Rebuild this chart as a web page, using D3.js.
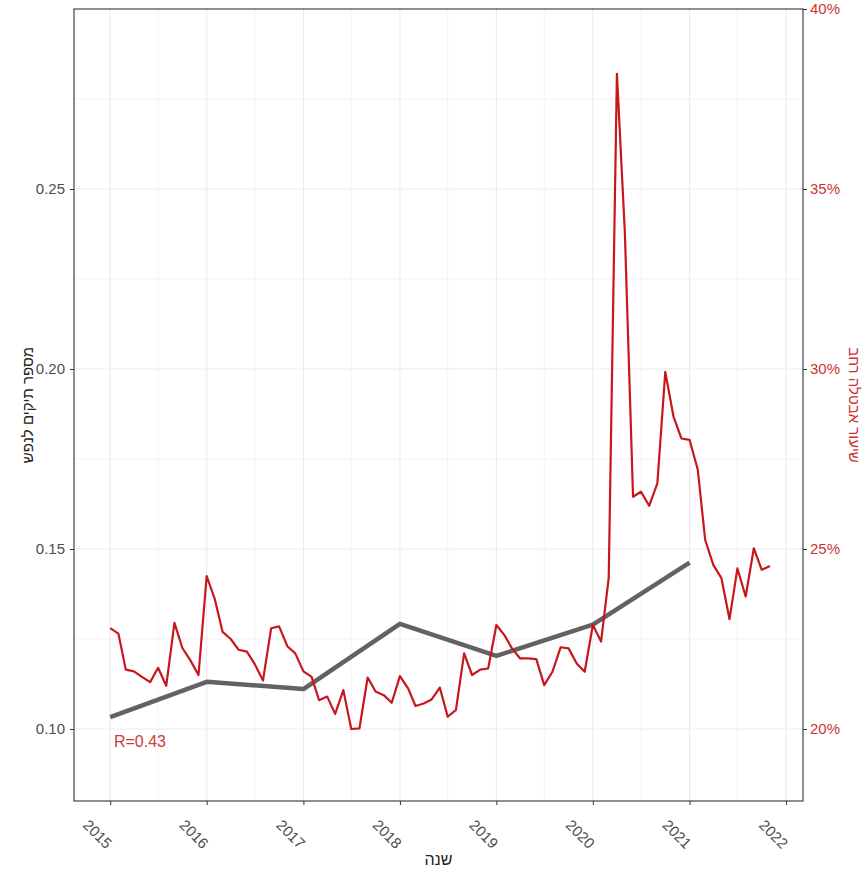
<!DOCTYPE html>
<html><head><meta charset="utf-8">
<script src="https://cdn.jsdelivr.net/npm/d3@7"></script>
<style>
body{margin:0;background:#fff;}
svg{display:block;font-family:"Liberation Sans",Arial,sans-serif;}
</style>
</head><body>
<svg id="c" width="865" height="872"></svg>
<script>
// ---- data ----
const yearTicks = [2015, 2016, 2017, 2018, 2019, 2020, 2021, 2022];
const grayYears = [2015, 2016, 2017, 2018, 2019, 2020, 2021];
const grayValues = [0.1033, 0.1131, 0.1111, 0.1292, 0.1203, 0.1290, 0.1462];
const redFirstMonth = "2015-01";
const redValues = [ // percent, monthly
  22.8, 22.65, 21.65, 21.6, 21.45, 21.3, 21.7, 21.2, 22.95, 22.25, 21.9, 21.5,
  24.25, 23.6, 22.7, 22.5, 22.2, 22.15, 21.8, 21.35, 22.8, 22.85, 22.3, 22.1,
  21.6, 21.45, 20.8, 20.9, 20.42, 21.08, 20.0, 20.02, 21.43, 21.04, 20.94, 20.73,
  21.47, 21.13, 20.64, 20.71, 20.82, 21.15, 20.34, 20.53, 22.1, 21.5, 21.65, 21.68,
  22.89, 22.6, 22.24, 21.96, 21.96, 21.94, 21.22, 21.59, 22.27, 22.24, 21.82, 21.59,
  22.89, 22.43, 24.2, 38.2, 33.8, 26.45, 26.59, 26.2, 26.82, 29.92, 28.68, 28.07,
  28.03, 27.2, 25.25, 24.55, 24.2, 23.05, 24.46, 23.68, 25.02, 24.42, 24.53
];
const leftTicks = [0.10, 0.15, 0.20, 0.25];
const leftMinor = [0.125, 0.175, 0.225, 0.275];
const rightTicks = [20, 25, 30, 35, 40];
const leftTitle = "מספר תיקים לנפש";
const rightTitle = "שיעור אבטלה רחב";
const xTitle = "שנה";
const annotation = "R=0.43";

// ---- layout ----
const P = {l: 74, r: 803, t: 9, b: 801};
const svg = d3.select("#c");
const parseM = d3.timeParse("%Y-%m");
const redStart = parseM(redFirstMonth);
const redData = redValues.map((v, i) => ({d: d3.timeMonth.offset(redStart, i), v}));
const grayData = grayYears.map((y, i) => ({d: new Date(y, 0, 1), v: grayValues[i]}));

const x = d3.scaleTime()
  .domain([new Date(2014, 7, 17), new Date(2022, 2, 6)])
  .range([P.l, P.r]);
const y = d3.scaleLinear().domain([0.08, 0.30]).range([P.b, P.t]);
const yR = d3.scaleLinear().domain([18, 40]).range([P.b, P.t]);

const gridCol = "#ebebeb";
// minor grid
const g = svg.append("g");
g.selectAll(".mx").data(yearTicks.slice(0, -1).map(yy => new Date(yy, 6, 1))).join("line")
  .attr("x1", d => x(d)).attr("x2", d => x(d)).attr("y1", P.t).attr("y2", P.b)
  .attr("stroke", gridCol).attr("stroke-width", 0.6);
g.selectAll(".my").data(leftMinor).join("line")
  .attr("x1", P.l).attr("x2", P.r).attr("y1", d => y(d)).attr("y2", d => y(d))
  .attr("stroke", gridCol).attr("stroke-width", 0.6);
// major grid
g.selectAll(".Mx").data(yearTicks.map(yy => new Date(yy, 0, 1))).join("line")
  .attr("x1", d => x(d)).attr("x2", d => x(d)).attr("y1", P.t).attr("y2", P.b)
  .attr("stroke", gridCol).attr("stroke-width", 1.1);
g.selectAll(".My").data(leftTicks).join("line")
  .attr("x1", P.l).attr("x2", P.r).attr("y1", d => y(d)).attr("y2", d => y(d))
  .attr("stroke", gridCol).attr("stroke-width", 1.1);

// lines
svg.append("path").datum(grayData)
  .attr("fill", "none").attr("stroke", "#626262").attr("stroke-width", 4.5)
  .attr("stroke-linejoin", "round").attr("stroke-linecap", "butt")
  .attr("d", d3.line().x(d => x(d.d)).y(d => y(d.v)));
svg.append("path").datum(redData)
  .attr("fill", "none").attr("stroke", "#c8161d").attr("stroke-width", 2.2)
  .attr("stroke-linejoin", "round")
  .attr("d", d3.line().x(d => x(d.d)).y(d => yR(d.v)));

// annotation
svg.append("text").attr("x", x(new Date(2015, 0, 15))).attr("y", 747)
  .attr("fill", "#cc3b3b").attr("font-size", 16).text(annotation);

// border
svg.append("rect").attr("x", P.l).attr("y", P.t).attr("width", P.r - P.l).attr("height", P.b - P.t)
  .attr("fill", "none").attr("stroke", "#333").attr("stroke-width", 1.1);

// left axis
const la = svg.append("g").attr("transform", `translate(${P.l},0)`)
  .call(d3.axisLeft(y).tickValues(leftTicks).tickFormat(d3.format(".2f")).tickSize(4).tickPadding(5));
la.select(".domain").remove();
la.selectAll("line").attr("stroke", "#333");
la.selectAll("text").attr("fill", "#4d4d4d").attr("font-size", 15).attr("font-family", "Liberation Sans, Arial, sans-serif");

// right axis
const ra = svg.append("g").attr("transform", `translate(${P.r},0)`)
  .call(d3.axisRight(yR).tickValues(rightTicks).tickFormat(d => d + "%").tickSize(4).tickPadding(3));
ra.select(".domain").remove();
ra.selectAll("line").attr("stroke", "#333");
ra.selectAll("text").attr("fill", "#cc3333").attr("font-size", 15).attr("font-family", "Liberation Sans, Arial, sans-serif");

// bottom axis
const ba = svg.append("g").attr("transform", `translate(0,${P.b})`)
  .call(d3.axisBottom(x).tickValues(yearTicks.map(yy => new Date(yy, 0, 1))).tickFormat(d3.timeFormat("%Y")).tickSize(4));
ba.select(".domain").remove();
ba.selectAll("line").attr("stroke", "#333");
ba.selectAll("text")
  .attr("fill", "#4d4d4d").attr("font-size", 15).attr("font-family", "Liberation Sans, Arial, sans-serif")
  .attr("text-anchor", "middle").attr("dy", null).attr("y", null)
  .attr("transform", "translate(-14,34) rotate(45)")
  .attr("dominant-baseline", "middle");

// titles
svg.append("text").attr("x", (P.l + P.r) / 2).attr("y", 865)
  .attr("text-anchor", "middle").attr("fill", "#222").attr("font-size", 16).text(xTitle);
svg.append("text").attr("transform", `translate(33,${(P.t + P.b) / 2}) rotate(-90)`)
  .attr("text-anchor", "middle").attr("fill", "#222").attr("font-size", 15).text(leftTitle);
svg.append("text").attr("transform", `translate(849,${(P.t + P.b) / 2}) rotate(90)`)
  .attr("text-anchor", "middle").attr("fill", "#cc3333").attr("font-size", 15).text(rightTitle);
</script>
</body></html>
